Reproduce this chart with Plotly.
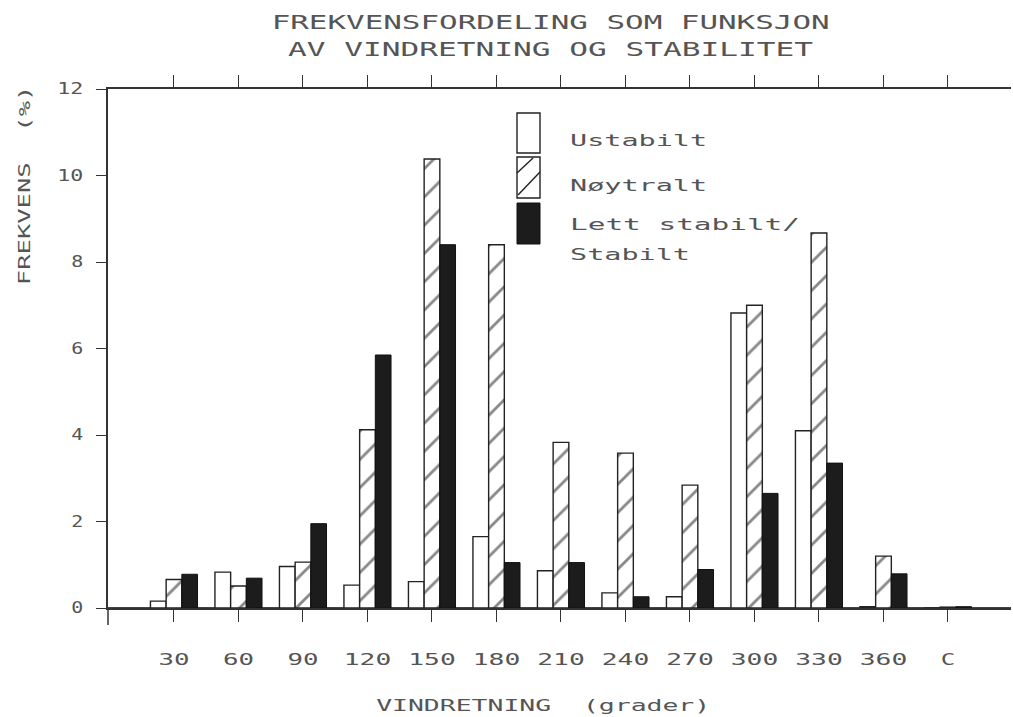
import plotly.graph_objects as go

# ---------------- data ----------------
categories = ["30", "60", "90", "120", "150", "180", "210", "240", "270", "300", "330", "360", "C"]
ustabilt = [0.16, 0.83, 0.96, 0.53, 0.61, 1.65, 0.86, 0.35, 0.26, 6.82, 4.10, 0.03, 0.0]
noytralt = [0.66, 0.51, 1.06, 4.12, 10.38, 8.40, 3.83, 3.58, 2.84, 7.00, 8.67, 1.20, 0.02]
stabilt = [0.78, 0.69, 1.95, 5.85, 8.40, 1.05, 1.05, 0.26, 0.89, 2.65, 3.35, 0.79, 0.03]
y_ticks = [0, 2, 4, 6, 8, 10, 12]

title_lines = ["FREKVENSFORDELING SOM FUNKSJON", "AV VINDRETNING OG STABILITET"]
x_title = "VINDRETNING  (grader)"
y_title = "FREKVENS  (%)"
legend_labels = ["Ustabilt", "Nøytralt", "Lett stabilt/", "Stabilt"]

# ---------------- layout geometry ----------------
W, H = 1013, 717
L, R, T, B = 108, 1011, 89, 608
FONT = "DejaVu Sans Mono"
TXT = "#555555"
DARK = "#1c1c1c"


def px(x):
    return (x - L) / (R - L)


def py(y):
    return (B - y) / (B - T)


fig = go.Figure()
fig.add_trace(go.Bar(x=categories, y=ustabilt, name="Ustabilt",
                     marker=dict(color="white", line=dict(color="#222", width=1.4))))
fig.add_trace(go.Bar(x=categories, y=noytralt, name="Nøytralt",
                     marker=dict(color="white", line=dict(color="#222", width=1.4),
                                 pattern=dict(shape="/", fgcolor="#111", bgcolor="white",
                                              size=20, solidity=0.14))))
fig.add_trace(go.Bar(x=categories, y=stabilt, name="Lett stabilt/Stabilt",
                     marker=dict(color=DARK, line=dict(color="#111", width=1.0))))

shapes = []
# y-axis extension below zero
shapes.append(dict(type="line", xref="paper", yref="paper", x0=0, x1=0, y0=0, y1=py(625),
                   line=dict(color="#333", width=1.5)))
# legend boxes
shapes.append(dict(type="rect", xref="paper", yref="paper", x0=px(517), x1=px(540),
                   y0=py(153), y1=py(113), fillcolor="white", line=dict(color="#222", width=1.4)))
shapes.append(dict(type="rect", xref="paper", yref="paper", x0=px(517), x1=px(540),
                   y0=py(198), y1=py(157), fillcolor="white", line=dict(color="#222", width=1.4)))
shapes.append(dict(type="line", xref="paper", yref="paper", x0=px(517), x1=px(533),
                   y0=py(173), y1=py(158), line=dict(color="#222", width=1.4)))
shapes.append(dict(type="line", xref="paper", yref="paper", x0=px(518), x1=px(540),
                   y0=py(195), y1=py(172), line=dict(color="#222", width=1.4)))
shapes.append(dict(type="rect", xref="paper", yref="paper", x0=px(517), x1=px(540),
                   y0=py(244), y1=py(203), fillcolor=DARK, line=dict(color="#111", width=1)))

annotations = []
for txt, yy in zip(title_lines, [22, 49]):
    annotations.append(dict(text=txt, xref="paper", yref="paper", x=px(550), y=py(yy),
                            xanchor="center", yanchor="middle", showarrow=False,
                            font=dict(family=FONT, size=20, color=TXT)))
for txt, yy in zip(legend_labels, [140, 185, 224, 254]):
    annotations.append(dict(text=txt, xref="paper", yref="paper", x=px(568), y=py(yy),
                            xanchor="left", yanchor="middle", align="left", showarrow=False,
                            font=dict(family=FONT, size=16, color=TXT)))
annotations.append(dict(text=x_title, xref="paper", yref="paper", x=px(543), y=py(705),
                        xanchor="center", yanchor="middle", showarrow=False,
                        font=dict(family=FONT, size=16, color=TXT)))
annotations.append(dict(text=y_title, xref="paper", yref="paper", x=px(24), y=py(186),
                        xanchor="center", yanchor="middle", showarrow=False, textangle=-90,
                        font=dict(family=FONT, size=16, color=TXT)))

fig.update_layout(
    width=W, height=H,
    margin=dict(l=L, r=W - R, t=T, b=H - B, pad=0),
    paper_bgcolor="white", plot_bgcolor="white",
    barmode="group", bargap=0.27, bargroupgap=0.0,
    showlegend=False,
    xaxis=dict(type="category", range=[-1.023, 12.977], showgrid=False,
               showline=True, linecolor="#333", linewidth=1.5, mirror="ticks",
               ticks="outside", ticklen=12, tickwidth=1.3, tickcolor="#333",
               ticklabelstandoff=24,
               tickfont=dict(family=FONT, size=16, color=TXT)),
    yaxis=dict(range=[0, 12], tickvals=y_ticks, showgrid=False,
               showline=True, linecolor="#333", linewidth=1.5,
               zeroline=True, zerolinecolor="#444", zerolinewidth=2,
               ticks="outside", ticklen=10, tickwidth=1.3, tickcolor="#333",
               ticklabelstandoff=10,
               tickfont=dict(family=FONT, size=15, color=TXT)),
    shapes=shapes, annotations=annotations,
)

# widen the glyphs to imitate the wide pen-plotter lettering of the original
post = """
var gd = document.getElementById('{plot_id}');
var WIDTHS = {
  "FREKVENSFORDELING SOM FUNKSJON": 558,
  "AV VINDRETNING OG STABILITET": 525,
  "Ustabilt": 137, "Nøytralt": 137, "Lett stabilt/": 230, "Stabilt": 120
};
function widen(){
  gd.querySelectorAll('svg text').forEach(function(t){
    var s = t.textContent;
    if (!s) return;
    var w = WIDTHS[s];
    if (!w) {
      var n = s.replace(/\\s+/g, ' ').length;
      if (t.closest('.ytick')) w = n * 14 - 2;
      else if (t.closest('.xtick')) w = n * 16.5 - 2;
      else w = n * 16.8 - 2;
    }
    t.setAttribute('textLength', w);
    t.setAttribute('lengthAdjust', 'spacingAndGlyphs');
  });
}
widen();
gd.on('plotly_afterplot', widen);
"""

fig.write_html("out.html", post_script=post)
